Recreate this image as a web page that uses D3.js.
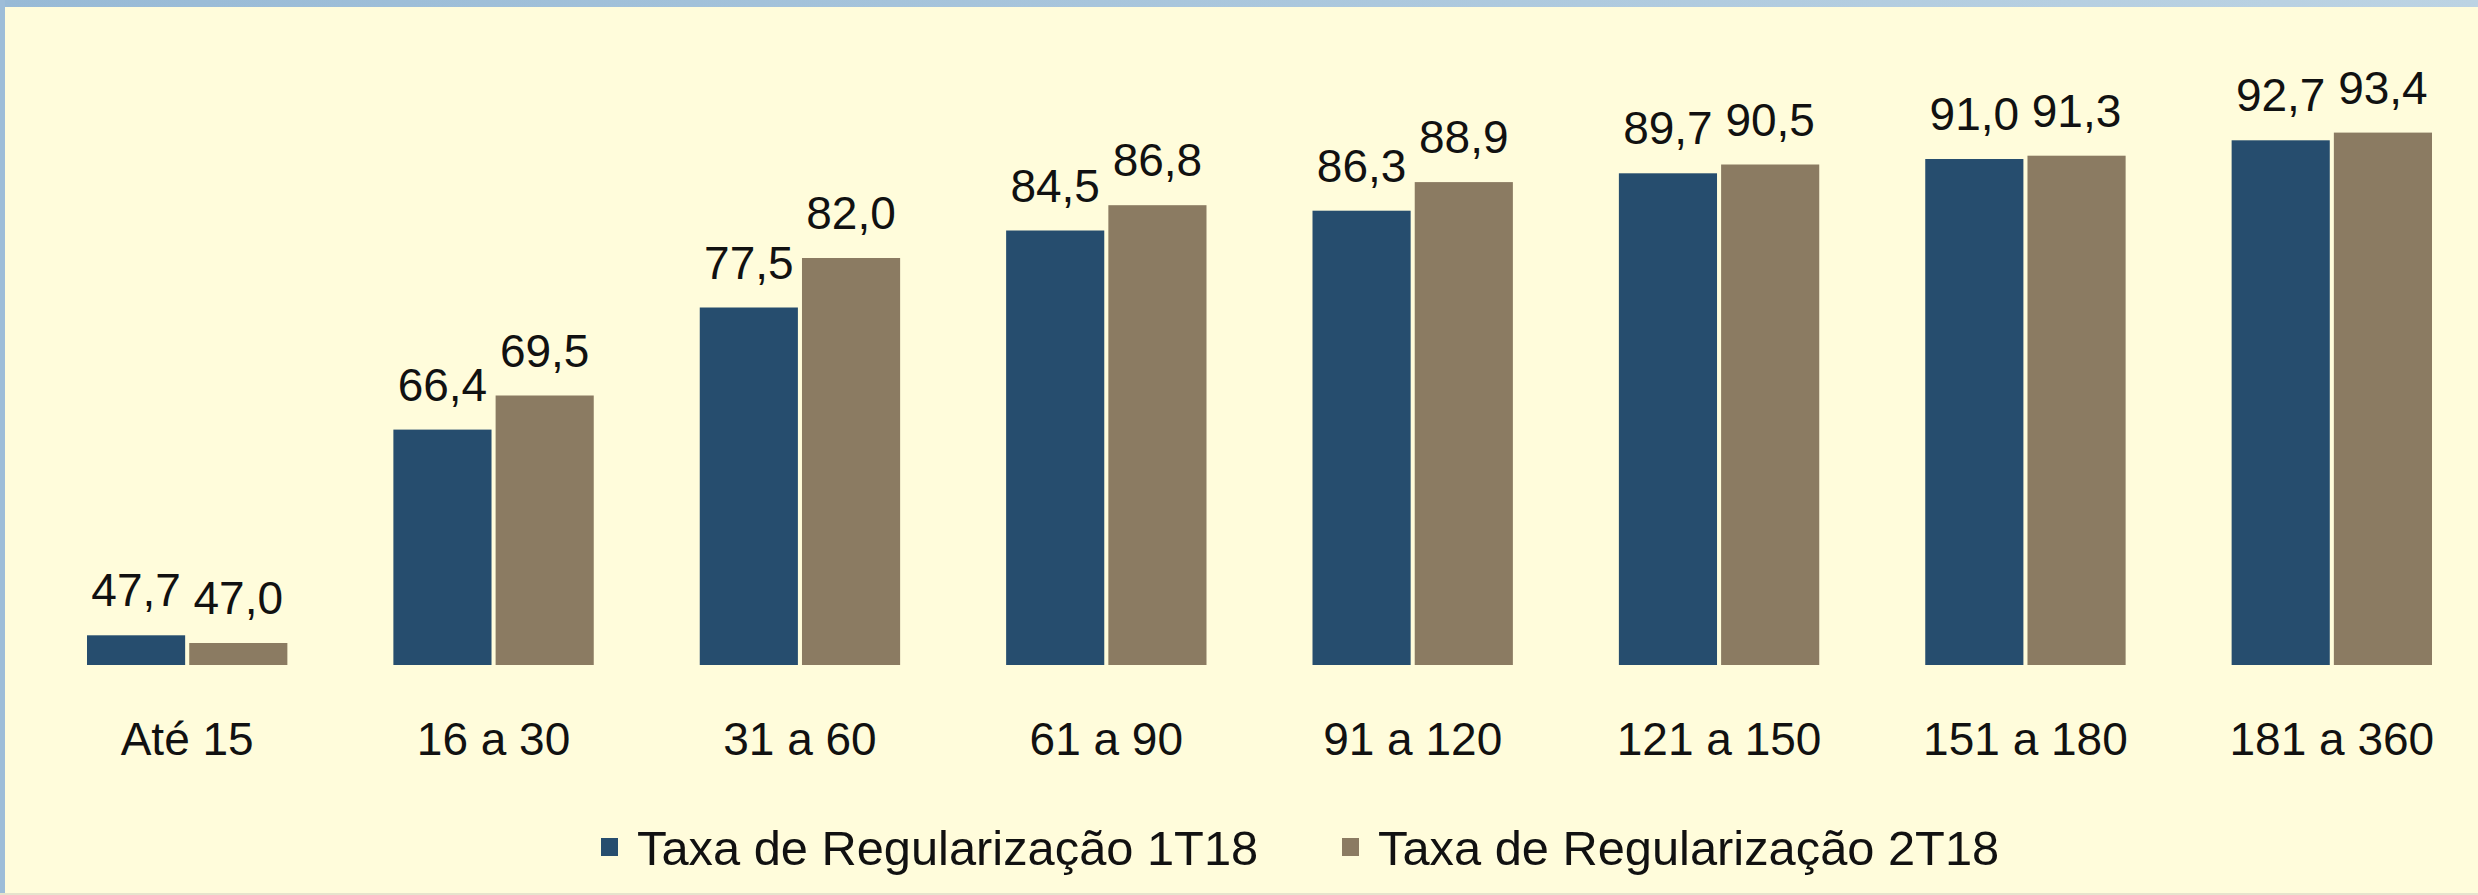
<!DOCTYPE html>
<html>
<head>
<meta charset="utf-8">
<script src="https://cdn.jsdelivr.net/npm/d3@7"></script>
<style>
  html, body { margin: 0; padding: 0; background: #fffcdb; }
  svg { display: block; }
</style>
</head>
<body>
<div id="chart"></div>
<script>
// categories (days) and the two series
const categories = ["Até 15", "16 a 30", "31 a 60", "61 a 90", "91 a 120", "121 a 150", "151 a 180", "181 a 360"];
const seriesNames = ["Taxa de Regularização 1T18", "Taxa de Regularização 2T18"];
const values1T18 = [47.7, 66.4, 77.5, 84.5, 86.3, 89.7, 91.0, 92.7];
const values2T18 = [47.0, 69.5, 82.0, 86.8, 88.9, 90.5, 91.3, 93.4];
const yDomain = [45, 100];

const W = 2478, H = 895;
const colors = ["#264d6e", "#8b7b62"];
const font = "'Liberation Sans', Arial, sans-serif";

const rows = categories.map((c, i) => ({ cat: c, vals: [values1T18[i], values2T18[i]] }));

const svg = d3.select("#chart")
  .append("svg")
  .attr("width", W)
  .attr("height", H);

// background + frame
svg.append("rect")
  .attr("width", W).attr("height", H)
  .attr("fill", "#fffcdb");

const grad = svg.append("defs").append("linearGradient")
  .attr("id", "frame").attr("x1", 0).attr("x2", 1);
grad.append("stop").attr("offset", "0%").attr("stop-color", "#98bad6");
grad.append("stop").attr("offset", "100%").attr("stop-color", "#bcd3e3");

svg.append("rect").attr("x", 0).attr("y", 0).attr("width", W).attr("height", 7).attr("fill", "url(#frame)");
svg.append("rect").attr("x", 0).attr("y", 0).attr("width", 5).attr("height", H).attr("fill", "#9dbdd8");
svg.append("rect").attr("x", 0).attr("y", H - 2).attr("width", W).attr("height", 2).attr("fill", "#e6e3cc");

// scales
const x0 = d3.scaleBand()
  .domain(categories)
  .range([34, 2485])
  .paddingInner(0.346)
  .paddingOuter(0.173);

const x1 = d3.scaleBand()
  .domain(seriesNames)
  .range([0, x0.bandwidth()])
  .paddingInner(0.04);

const y = d3.scaleLinear().domain(yDomain).range([665, 60]);

const fmt = v => v.toFixed(1).replace(".", ",");

// bars
const groups = svg.append("g")
  .selectAll("g")
  .data(rows)
  .join("g")
  .attr("transform", d => `translate(${x0(d.cat)},0)`);

groups.selectAll("rect")
  .data(d => d.vals.map((v, k) => ({ name: seriesNames[k], v, k })))
  .join("rect")
  .attr("x", d => x1(d.name))
  .attr("y", d => y(d.v))
  .attr("width", x1.bandwidth())
  .attr("height", d => y(yDomain[0]) - y(d.v))
  .attr("fill", d => colors[d.k]);

// value labels
groups.selectAll("text")
  .data(d => d.vals.map((v, k) => ({ name: seriesNames[k], v, k })))
  .join("text")
  .attr("x", d => x1(d.name) + x1.bandwidth() / 2)
  .attr("y", d => y(d.v) - 29)
  .attr("text-anchor", "middle")
  .attr("font-family", font)
  .attr("font-size", "46px")
  .attr("fill", "#111")
  .text(d => fmt(d.v));

// category labels
svg.append("g")
  .selectAll("text")
  .data(categories)
  .join("text")
  .attr("x", d => x0(d) + x0.bandwidth() / 2)
  .attr("y", 755)
  .attr("text-anchor", "middle")
  .attr("font-family", font)
  .attr("font-size", "46px")
  .attr("fill", "#111")
  .text(d => d);

// legend
const legendX = [601, 1342];
const legend = svg.append("g")
  .selectAll("g")
  .data(seriesNames)
  .join("g")
  .attr("transform", (d, i) => `translate(${legendX[i]},0)`);

legend.append("rect")
  .attr("x", 0).attr("y", 838)
  .attr("width", 17).attr("height", 18)
  .attr("fill", (d, i) => colors[i]);

legend.append("text")
  .attr("x", 36)
  .attr("y", 865)
  .attr("font-family", font)
  .attr("font-size", "48.8px")
  .attr("fill", "#111")
  .text(d => d);
</script>
</body>
</html>
